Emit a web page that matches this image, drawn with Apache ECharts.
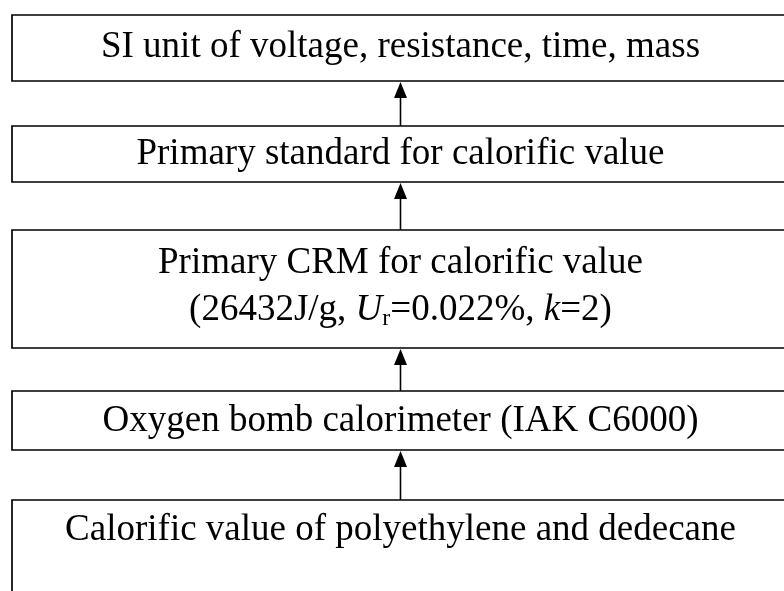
<!DOCTYPE html>
<html><head><meta charset="utf-8">
<script src="https://cdn.jsdelivr.net/npm/echarts@6/dist/echarts.min.js"></script>
<style>html,body{margin:0;padding:0;background:#fff}#main{width:784px;height:591px}</style>
</head><body><div id="main"></div>
<script>
// Diagram content
const boxLabels = [
  'SI unit of voltage, resistance, time, mass',
  'Primary standard for calorific value',
  'Primary CRM for calorific value\n{n|(26432J/g, }{i|U}{sub|r}{n|=0.022%, }{i|k}{n|=2)}',
  'Oxygen bomb calorimeter (IAK C6000)',
  'Calorific value of polyethylene and dedecane'
];
// Layout in diagram units (1 unit = 1 px of the 784x591 canvas)
const boxTop = [15, 126, 230, 391, 500];
const boxBottom = [81, 182, 348, 450, 640];
const labelY = [47, 154, 287, 421, 530];
const boxX = [12, 790];
const arrowX = 400.5;

const FONT = '"Liberation Serif", "Times New Roman", serif';
const FS = 37;

const boxData = boxLabels.map((l, i) => [i, boxTop[i], boxBottom[i], labelY[i]]);
const arrowData = [];
for (let i = 0; i < boxTop.length - 1; i++) arrowData.push([boxTop[i + 1], boxBottom[i]]);

const chart = echarts.init(document.getElementById('main'));
chart.setOption({
  animation: false,
  backgroundColor: '#fff',
  grid: {left: 0, right: 0, top: 0, bottom: 0},
  xAxis: {type: 'value', min: 0, max: 784, show: false},
  yAxis: {type: 'value', min: 0, max: 591, inverse: true, show: false},
  series: [
    {
      type: 'custom',
      coordinateSystem: 'cartesian2d',
      data: boxData,
      renderItem: function (params, api) {
        const i = api.value(0);
        const p0 = api.coord([boxX[0], api.value(1)]);
        const p1 = api.coord([boxX[1], api.value(2)]);
        const pc = api.coord([arrowX, api.value(3)]);
        const label = boxLabels[i];
        const children = [{
          type: 'rect',
          shape: {x: p0[0], y: p0[1], width: p1[0] - p0[0], height: p1[1] - p0[1]},
          style: {fill: '#fff', stroke: '#000', lineWidth: 1.7}
        }];
        const parts = label.split('\n');
        if (parts.length === 1) {
          children.push({
            type: 'text',
            style: {text: label, x: pc[0], y: pc[1], align: 'center', verticalAlign: 'middle',
              fontFamily: FONT, fontSize: FS, fill: '#000'}
          });
        } else {
          children.push({
            type: 'text',
            style: {text: parts[0], x: pc[0], y: pc[1] - 24, align: 'center', verticalAlign: 'middle',
              fontFamily: FONT, fontSize: FS, fill: '#000'}
          });
          children.push({
            type: 'text',
            style: {text: parts[1], x: pc[0], y: pc[1] + 23, align: 'center', verticalAlign: 'middle',
              fontFamily: FONT, fontSize: FS, fill: '#000',
              rich: {
                n: {fontFamily: FONT, fontSize: FS, fill: '#000', lineHeight: 44},
                i: {fontFamily: FONT, fontSize: FS, fontStyle: 'italic', fill: '#000', lineHeight: 44},
                sub: {fontFamily: FONT, fontSize: 24, fill: '#000', lineHeight: 44, padding: [18, 0, 0, 0]}
              }}
          });
        }
        return {type: 'group', children: children};
      }
    },
    {
      type: 'custom',
      coordinateSystem: 'cartesian2d',
      data: arrowData,
      renderItem: function (params, api) {
        const s = api.coord([arrowX, api.value(0)]);
        const e = api.coord([arrowX, api.value(1)]);
        const tipY = e[1] + 1;
        const headH = 16, headW = 6.5;
        return {
          type: 'group',
          children: [
            {type: 'line', shape: {x1: s[0], y1: s[1], x2: s[0], y2: tipY + headH - 1},
              style: {stroke: '#000', lineWidth: 1.6}},
            {type: 'polygon', shape: {points: [[s[0], tipY], [s[0] - headW, tipY + headH], [s[0] + headW, tipY + headH]]},
              style: {fill: '#000'}}
          ]
        };
      }
    }
  ]
});
</script></body></html>
